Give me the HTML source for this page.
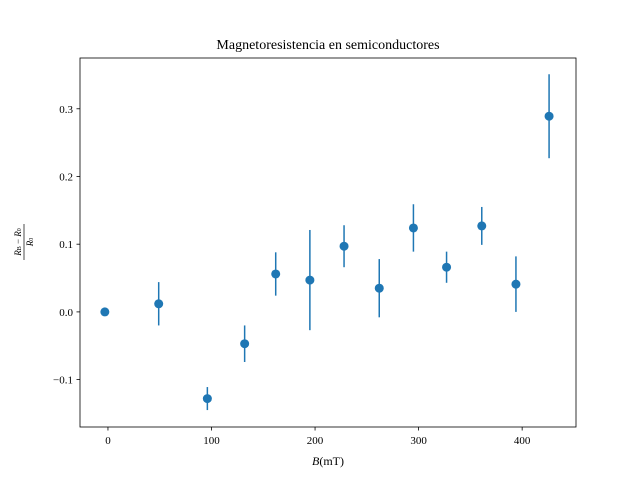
<!DOCTYPE html>
<html><head><meta charset="utf-8"><style>
body{margin:0;background:#fff;}
svg{display:block;font-family:"Liberation Serif",serif;}
</style></head><body>
<svg id="chart" width="640" height="480">
<rect x="0" y="0" width="640" height="480" fill="#fff"/>
<text x="328" y="49" text-anchor="middle" font-size="14">Magnetoresistencia en semiconductores</text>
<g id="axes"></g>
<g id="marks"></g>
<rect x="80" y="58" width="496" height="369" fill="none" stroke="#000" stroke-width="0.8"/>
<text x="328" y="465" text-anchor="middle" font-size="12"><tspan font-style="italic">B</tspan>(mT)</text>
<g transform="translate(24,242) rotate(-90)">
<text x="0" y="-3" text-anchor="middle" font-size="9"><tspan font-style="italic">R</tspan><tspan font-size="6">B</tspan> − <tspan font-style="italic">R</tspan><tspan font-size="6">0</tspan></text>
<line x1="-18" y1="0" x2="18" y2="0" stroke="#000" stroke-width="0.7"/>
<text x="0" y="9" text-anchor="middle" font-size="9"><tspan font-style="italic">R</tspan><tspan font-size="6">0</tspan></text>
</g>
</svg>
<script>
const B = [-3, 49, 96, 132, 162, 195, 228, 262, 295, 327, 361, 394, 426];
const ratio = [0, 0.012, -0.128, -0.047, 0.056, 0.047, 0.097, 0.035, 0.124, 0.066, 0.127, 0.041, 0.289];
const err = [0, 0.032, 0.017, 0.027, 0.032, 0.074, 0.031, 0.043, 0.035, 0.023, 0.028, 0.041, 0.062];
const xTicks = [0, 100, 200, 300, 400];
const yTicks = [-0.1, 0.0, 0.1, 0.2, 0.3];
const yTickLabels = ["−0.1", "0.0", "0.1", "0.2", "0.3"];

const X0=80, X1=576, Y0=58, Y1=427;
const xMin=-27, xMax=452, yMin=-0.170, yMax=0.375;
function sx(v){return X0+(v-xMin)/(xMax-xMin)*(X1-X0);}
function sy(v){return Y1-(v-yMin)/(yMax-yMin)*(Y1-Y0);}
const NS="http://www.w3.org/2000/svg";
function mk(t,a,p){const e=document.createElementNS(NS,t);for(const k in a)e.setAttribute(k,a[k]);p.appendChild(e);return e;}
const axes=document.getElementById('axes'), marks=document.getElementById('marks');
xTicks.forEach(v=>{
  const g=mk('g',{},axes);
  
  
  mk('line',{x1:sx(v),x2:sx(v),y1:Y1,y2:Y1+3.5,stroke:'#000','stroke-width':0.8},g);
  const t=mk('text',{x:sx(v),y:Y1+17,'text-anchor':'middle','font-size':11},g);t.textContent=v;
});
yTicks.forEach((v,i)=>{
  const g=mk('g',{},axes);
  
  
  mk('line',{x1:X0-3.5,x2:X0,y1:sy(v),y2:sy(v),stroke:'#000','stroke-width':0.8},g);
  const t=mk('text',{x:X0-7,y:sy(v)+4,'text-anchor':'end','font-size':11},g);t.textContent=yTickLabels[i];
});
B.forEach((b,i)=>{
  const g=mk('g',{},marks);
  
  
  if(err[i]>0) mk('line',{x1:sx(b),x2:sx(b),y1:sy(ratio[i]-err[i]),y2:sy(ratio[i]+err[i]),stroke:'#1f77b4','stroke-width':1.5},g);
  mk('circle',{cx:sx(b),cy:sy(ratio[i]),r:4.5,fill:'#1f77b4'},g);
});
</script>
</body></html>
